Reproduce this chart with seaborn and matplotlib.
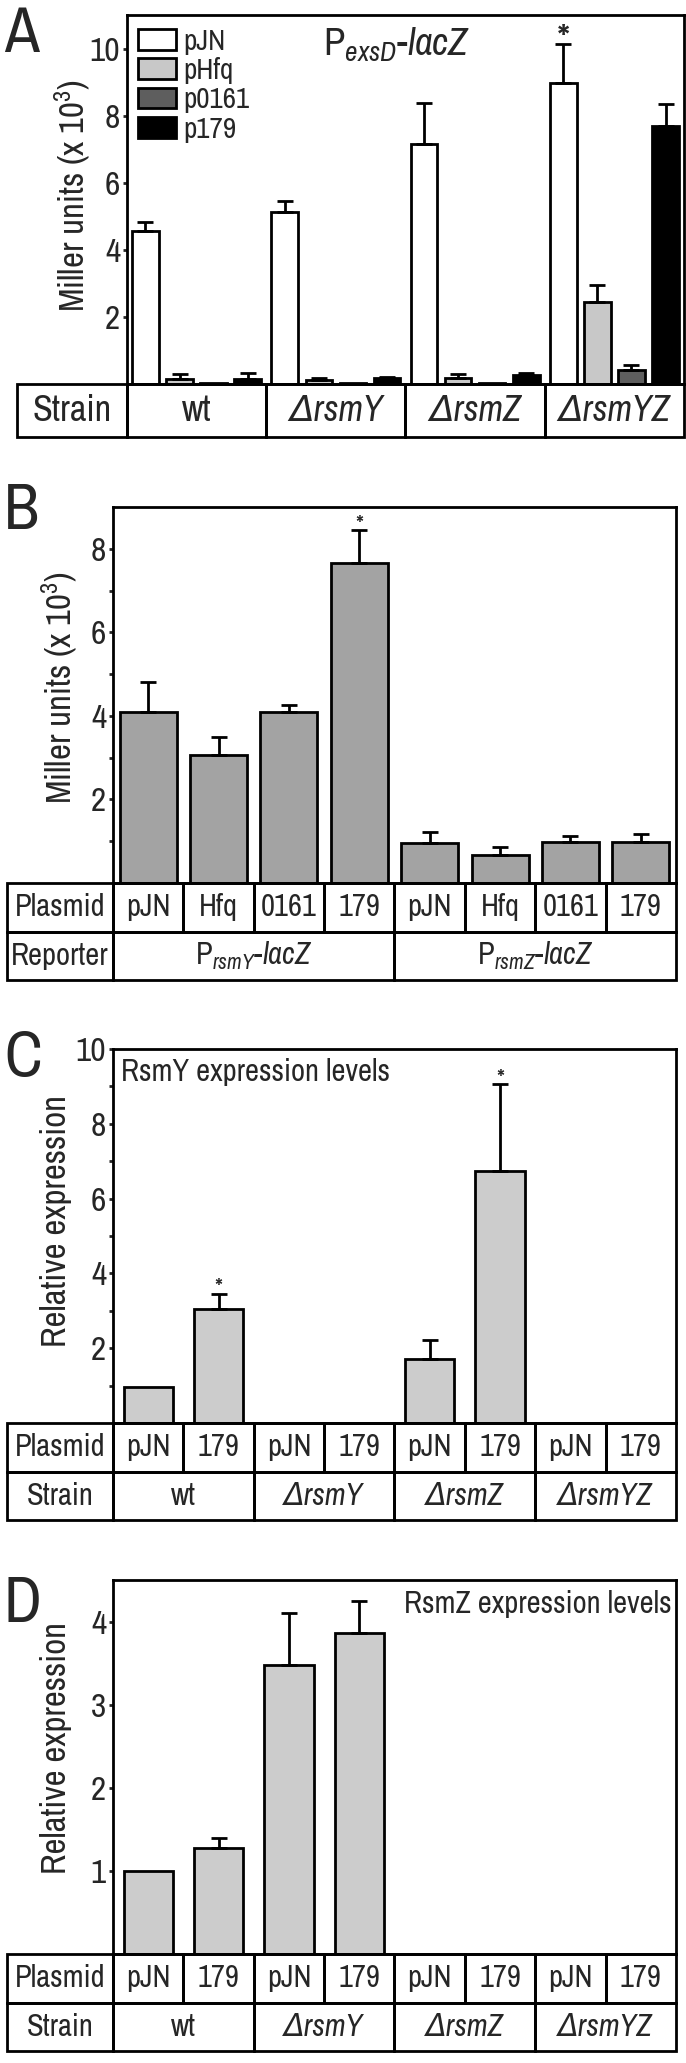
import numpy as np
import pandas as pd
import seaborn as sns
import matplotlib.pyplot as plt
from matplotlib import font_manager
from matplotlib.patches import Rectangle
from matplotlib.container import BarContainer

sns.set_theme(style='white')

# the figure uses an Arial-Narrow-like face; take a narrow font if one is installed
FONT, STRETCH, K = 'Liberation Sans', 'normal', 0.84
for f in font_manager.fontManager.ttflist:
    if 'Narrow' in f.name or 'Condensed' in f.name:
        FONT, STRETCH, K = f.name, 'normal', 1.0
        break
else:
    for f in font_manager.fontManager.ttflist:
        if f.stretch in ('condensed', 'semi-condensed') and 'Mono' not in f.name \
                and 'Serif' not in f.name:
            FONT, STRETCH, K = f.name, f.stretch, 1.0
            break
plt.rcParams['font.family'] = [FONT, 'DejaVu Sans']
plt.rcParams['font.stretch'] = STRETCH
plt.rcParams['mathtext.fontset'] = 'custom'
plt.rcParams['mathtext.rm'] = f'{FONT}:{STRETCH}'
plt.rcParams['mathtext.it'] = f'{FONT}:italic:{STRETCH}'
plt.rcParams['mathtext.bf'] = f'{FONT}:bold:{STRETCH}'

# ---- data ----
strains = ['wt', 'ΔrsmY', 'ΔrsmZ', 'ΔrsmYZ']

# A: P_exsD-lacZ, Miller units (x 10^3)
a_plasmids = ['pJN', 'pHfq', 'p0161', 'p179']
a_pjn = [4.55, 5.12, 7.14, 8.97]
a_pjn_sd = [0.28, 0.35, 1.23, 1.16]
a_hfq = [0.16, 0.12, 0.18, 2.43]
a_hfq_sd = [0.15, 0.06, 0.12, 0.51]
a_0161 = [0.04, 0.04, 0.04, 0.43]
a_0161_sd = [0.0, 0.0, 0.0, 0.14]
a_179 = [0.16, 0.18, 0.26, 7.68]
a_179_sd = [0.17, 0.03, 0.07, 0.68]

# B: reporters in wt
b_plasmids = ['pJN', 'Hfq', '0161', '179']
b_reporters = ['P$_{\\mathit{rsmY}}$-$\\mathit{lacZ}$', 'P$_{\\mathit{rsmZ}}$-$\\mathit{lacZ}$']
b_rsmy = [4.09, 3.07, 4.09, 7.65]
b_rsmy_sd = [0.71, 0.43, 0.16, 0.80]
b_rsmz = [0.95, 0.67, 0.99, 0.99]
b_rsmz_sd = [0.28, 0.18, 0.14, 0.19]

# C / D: relative expression (pJN, 179 per strain; missing = not measured)
cd_plasmids = ['pJN', '179']
c_rsmy = [0.95, 3.05, None, None, 1.70, 6.75, None, None]
c_rsmy_sd = [0.0, 0.41, 0, 0, 0.53, 2.32, 0, 0]
d_rsmz = [1.0, 1.28, 3.48, 3.86, None, None, None, None]
d_rsmz_sd = [0.0, 0.12, 0.62, 0.39, 0, 0, 0, 0]

W, H = 686, 2063
fig = plt.figure(figsize=(W / 100, H / 100), dpi=100)


def rect(x0, y0, x1, y1):
    return [x0 / W, 1 - y1 / H, (x1 - x0) / W, (y1 - y0) / H]


def style_axes(ax, ylim, ticks, minor=None):
    ax.set_ylim(*ylim)
    ax.set_yticks(ticks)
    ax.set_yticklabels([str(t) for t in ticks])
    if minor is not None:
        ax.set_yticks(minor, minor=True)
    ax.set_xticks([])
    ax.set_xlabel('')
    for s in ax.spines.values():
        s.set_visible(True)
        s.set_linewidth(2)
        s.set_color('black')
    ax.tick_params(axis='y', which='major', direction='out', length=3, width=2,
                   labelsize=24 * K, pad=2, left=True)
    ax.tick_params(axis='y', which='minor', direction='out', length=3, width=2, left=True)


def add_errors(ax, sd_lookup):
    tops = {}
    bars = [c for c in ax.containers if isinstance(c, BarContainer)]
    for ci, cont in enumerate(bars):
        for p in cont.patches:
            xc = p.get_x() + p.get_width() / 2
            h = p.get_height()
            if not np.isfinite(h):
                continue
            e = sd_lookup(ci, int(round(xc)))
            tops[(ci, int(round(xc)))] = (xc, h + e)
            if e > 0:
                ax.errorbar([xc], [h], yerr=[[0], [e]], fmt='none', ecolor='black',
                            elinewidth=2, capsize=6, capthick=2, zorder=3)
    return tops


def star(ax, pos, size, dy):
    ax.annotate('*', xy=pos, xytext=(0, dy), textcoords='offset points',
                ha='center', va='baseline', fontsize=size, fontweight='bold')


def draw_table(ax, rows, x_left, x_right, size):
    n = len(rows)
    ax.set_xlim(x_left, x_right)
    ax.set_ylim(0, n)
    ax.axis('off')
    for i, (label, cells) in enumerate(rows):
        y0 = n - 1 - i
        ax.add_patch(Rectangle((x_left, y0), -0.5 - x_left, 1, fill=False, lw=2,
                               ec='black', clip_on=False))
        ax.text((x_left - 0.5) / 2, y0 + 0.5, label, ha='center', va='center', fontsize=size)
        for x0, x1, txt, st in cells:
            ax.add_patch(Rectangle((x0, y0), x1 - x0, 1, fill=False, lw=2,
                                   ec='black', clip_on=False))
            ax.text((x0 + x1) / 2, y0 + 0.5, txt, ha='center', va='center',
                    fontsize=size, fontstyle=st)


def strain_style(s):
    return 'normal' if s == 'wt' else 'italic'


# ---------------- Panel A ----------------
axA = fig.add_axes(rect(127, 15, 684, 384))
dfA = pd.DataFrame({
    'strain': strains * 4,
    'plasmid': sum([[p] * 4 for p in a_plasmids], []),
    'value': a_pjn + a_hfq + a_0161 + a_179,
})
a_sd = [a_pjn_sd, a_hfq_sd, a_0161_sd, a_179_sd]
sns.barplot(data=dfA, x='strain', y='value', hue='plasmid', order=strains,
            hue_order=a_plasmids, palette=['white', '#c8c8c8', '#5e5e5e', 'black'],
            width=0.98, gap=0.22, edgecolor='black', linewidth=2, errorbar=None,
            saturation=1, ax=axA)
tops = add_errors(axA, lambda ci, g: a_sd[ci][g])
axA.set_xlim(-0.5, 3.5)
style_axes(axA, (0, 11), [2, 4, 6, 8, 10])
axA.set_ylabel('Miller units (x 10$^3$)', fontsize=25 * K)
axA.yaxis.set_label_coords(-0.063, 0.51)
star(axA, tops[(0, 3)], 30, -6)
axA.text(0.485, 0.92, 'P$_{\\mathit{exsD}}$-$\\mathit{lacZ}$', transform=axA.transAxes,
         ha='center', va='center', fontsize=28 * K)
leg = axA.legend(loc='upper left', bbox_to_anchor=(0.02, 0.966), frameon=False,
                 fontsize=21 * K, handlelength=1.3 / K, handleheight=0.7 / K,
                 labelspacing=0.08, handletextpad=0.25, borderpad=0, borderaxespad=0)
for h in leg.legend_handles:
    h.set_linewidth(2)

tA = fig.add_axes(rect(17, 384, 684, 437))
draw_table(tA, [('Strain', [(g - 0.5, g + 0.5, s, strain_style(s)) for g, s in enumerate(strains)])],
           -0.5 - 110 / 139.25, 3.5, 26 * K)

# ---------------- Panel B ----------------
axB = fig.add_axes(rect(113, 507, 676, 883))
b_slots = [f'Y{p}' for p in b_plasmids] + [f'Z{p}' for p in b_plasmids]
dfB = pd.DataFrame({'slot': b_slots, 'value': b_rsmy + b_rsmz})
b_sd = b_rsmy_sd + b_rsmz_sd
sns.barplot(data=dfB, x='slot', y='value', order=b_slots, color='#a3a3a3', saturation=1,
            width=0.81, edgecolor='black', linewidth=2, errorbar=None, ax=axB)
tops = add_errors(axB, lambda ci, k: b_sd[k])
axB.set_xlim(-0.5, 7.5)
style_axes(axB, (0, 9), [2, 4, 6, 8], [1, 3, 5, 7])
axB.set_ylabel('Miller units (x 10$^3$)', fontsize=25 * K)
axB.yaxis.set_label_coords(-0.06, 0.52)
star(axB, tops[(0, 3)], 18, -2)

tB = fig.add_axes(rect(7, 883, 676, 980))
draw_table(tB, [
    ('Plasmid', [(k - 0.5, k + 0.5, b_plasmids[k % 4], 'normal') for k in range(8)]),
    ('Reporter', [(-0.5, 3.5, b_reporters[0], 'normal'), (3.5, 7.5, b_reporters[1], 'normal')]),
], -0.5 - 106 / 70.4, 7.5, 22 * K)

# ---------------- Panel C / D ----------------
cd_slots = [f'{s}|{p}' for s in strains for p in cd_plasmids]


def cd_panel(top, vals, sds, ylim, ticks, minor, title, title_pos, title_ha, stars, lab_y):
    ax = fig.add_axes(rect(113, top, 676, top + 374))
    df = pd.DataFrame({'slot': [s for s, v in zip(cd_slots, vals) if v is not None],
                       'value': [v for v in vals if v is not None]})
    sns.barplot(data=df, x='slot', y='value', order=cd_slots, color='#cccccc', saturation=1,
                width=0.7, edgecolor='black', linewidth=2, errorbar=None, ax=ax)
    tops = add_errors(ax, lambda ci, k: sds[k])
    ax.set_xlim(-0.5, 7.5)
    style_axes(ax, ylim, ticks, minor)
    ax.set_ylabel('Relative expression', fontsize=25 * K)
    ax.yaxis.set_label_coords(-0.073, lab_y)
    ax.text(title_pos[0], title_pos[1], title, transform=ax.transAxes, ha=title_ha,
            va='center', fontsize=22 * K)
    for k in stars:
        star(ax, tops[(0, k)], 18, -2)
    t = fig.add_axes(rect(7, top + 374, 676, top + 471))
    draw_table(t, [
        ('Plasmid', [(k - 0.5, k + 0.5, cd_plasmids[k % 2], 'normal') for k in range(8)]),
        ('Strain', [(2 * g - 0.5, 2 * g + 1.5, s, strain_style(s)) for g, s in enumerate(strains)]),
    ], -0.5 - 106 / 70.4, 7.5, 22 * K)
    return ax


cd_panel(1049, c_rsmy, c_rsmy_sd, (0, 10), [2, 4, 6, 8, 10], [1, 3, 5, 7, 9],
         'RsmY expression levels', (0.014, 0.938), 'left', [1, 5], 0.54)
cd_panel(1580, d_rsmz, d_rsmz_sd, (0, 4.5), [1, 2, 3, 4], None,
         'RsmZ expression levels', (0.993, 0.936), 'right', [], 0.55)

# panel letters
for letter, base in [('A', 52), ('B', 529), ('C', 1076), ('D', 1622)]:
    fig.text(4 / W, 1 - base / H, letter, fontsize=46, ha='left', va='baseline')

fig.savefig('out.png', dpi=100)
